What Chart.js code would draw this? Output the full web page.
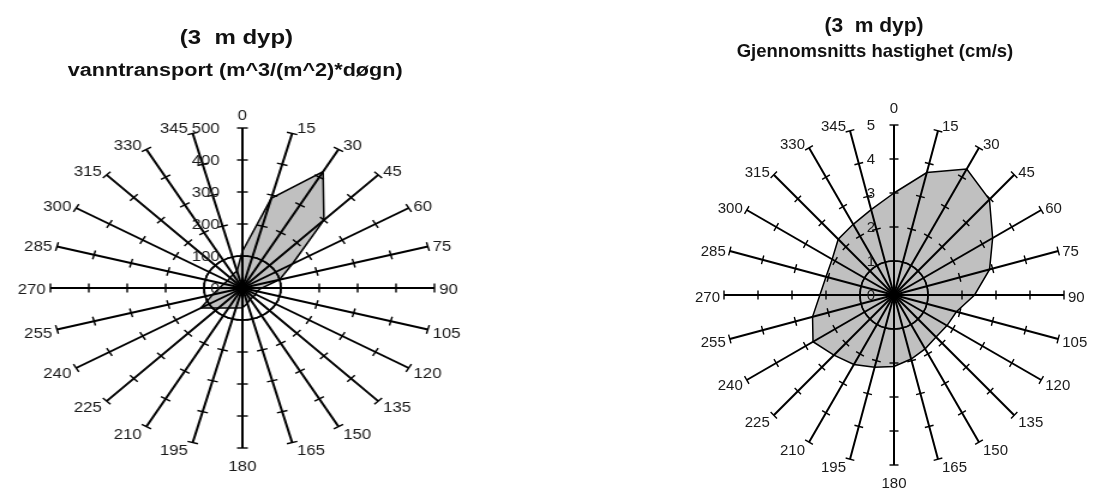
<!DOCTYPE html>
<html lang="no">
<head>
<meta charset="UTF-8">
<title>Strømrose 3 m dyp</title>
<script src="https://cdn.jsdelivr.net/npm/chart.js@4"></script>
<style>
  * { margin: 0; padding: 0; box-sizing: border-box; }
  body { width: 1093px; height: 490px; background: #fff; position: relative; overflow: hidden; font-family: 'Liberation Sans', Arial, sans-serif; color: #111; }
  .panel { position: absolute; top: 0; height: 490px; }
  #leftPanel { left: 0; width: 455px; transform: scaleX(1.2); transform-origin: 0 0; }
  #rightPanel { left: 546px; width: 547px; }
  .title, .sub { position: absolute; width: 400px; text-align: center; font-weight: bold; white-space: pre; }
  .title { font-size: 20px; line-height: 24px; }
  .sub { font-size: 18px; line-height: 22px; }
  canvas { position: absolute; left: 0; top: 0; }
</style>
</head>
<body>
<div class="panel" id="leftPanel">
  <div class="title" style="left:-3px; top:25px">(3  m dyp)</div>
  <div class="sub" style="left:-4px; top:59px">vanntransport (m^3/(m^2)*døgn)</div>
  <canvas id="transportChart" width="455" height="490"></canvas>
</div>
<div class="panel" id="rightPanel">
  <div class="title" style="left:128px; top:13px; font-size:21px">(3  m dyp)</div>
  <div class="sub" style="left:129px; top:40px; font-size:18.5px">Gjennomsnitts hastighet (cm/s)</div>
  <canvas id="speedChart" width="547" height="490"></canvas>
</div>

<script>
// Retning (grader), 15 graders sektorer
const directions = ['0', '15', '30', '45', '60', '75', '90', '105', '120', '135', '150', '165',
  '180', '195', '210', '225', '240', '255', '270', '285', '300', '315', '330', '345'];

// Vanntransport m^3/(m^2)*døgn per retning
const transport = [115, 290, 420, 300, 150, 100, 50, 40, 40, 40, 40, 50,
  62, 65, 72, 88, 125, 80, 60, 50, 45, 45, 50, 55];
const transportTicks = [0, 100, 200, 300, 400, 500];

// Gjennomsnittlig hastighet cm/s per retning
const speed = [3.0, 3.73, 4.28, 3.97, 3.35, 2.91, 2.37, 1.9, 1.8, 1.75, 1.83, 1.95,
  2.1, 2.2, 2.36, 2.5, 2.75, 2.48, 2.18, 2.07, 2.1, 2.32, 2.4, 2.6];
const speedTicks = [0, 1, 2, 3, 4, 5];

const FONT = "'Liberation Sans', Arial, sans-serif";

// cross ticks on every spoke, value labels beside the north spoke,
// and direction labels placed next to each spoke end
const roseDecor = {
  id: 'roseDecor',
  afterDraw(chart, args, opts) {
    const scale = chart.scales.r;
    const ctx = chart.ctx;
    const n = chart.data.labels.length;
    const top = opts.values[opts.values.length - 1];
    ctx.save();
    ctx.strokeStyle = '#000';
    ctx.lineWidth = 1.4;
    for (let i = 0; i < n; i++) {
      const a = scale.getIndexAngle(i) - Math.PI / 2;
      const nx = -Math.sin(a), ny = Math.cos(a);
      opts.values.forEach(v => {
        if (v === 0) return;
        const p = scale.getPointPositionForValue(i, v);
        ctx.beginPath();
        ctx.moveTo(p.x - nx * 4.5, p.y - ny * 4.5);
        ctx.lineTo(p.x + nx * 4.5, p.y + ny * 4.5);
        ctx.stroke();
      });
    }

    ctx.fillStyle = '#1a1a1a';
    ctx.font = opts.fontSize + 'px ' + FONT;
    ctx.textBaseline = 'middle';

    ctx.textAlign = 'right';
    opts.values.forEach(v => {
      const p = scale.getPointPositionForValue(0, v);
      ctx.fillText(String(v), p.x - opts.gap, p.y + 1);
    });

    chart.data.labels.forEach((label, i) => {
      const deg = Number(label);
      const p = scale.getPointPositionForValue(i, top);
      if (deg === 0) {
        ctx.textAlign = 'center';
        ctx.fillText(label, p.x, p.y - opts.northGap);
      } else if (deg === 180) {
        ctx.textAlign = 'center';
        ctx.fillText(label, p.x, p.y + 19);
      } else {
        const right = deg < 180;
        ctx.textAlign = right ? 'left' : 'right';
        const dy = 2.5 - 6.7 * Math.cos(deg * Math.PI / 180);
        ctx.fillText(label, p.x + (right ? 4 : -4), p.y + dy);
      }
    });
    ctx.restore();
  }
};

function roseChart(id, values, ticks, ring, padding, decor) {
  return new Chart(document.getElementById(id), {
    type: 'radar',
    data: {
      labels: directions,
      datasets: [{
        data: values,
        backgroundColor: '#c0c0c0',
        borderColor: '#000',
        borderWidth: 1.5,
        pointRadius: 0,
        fill: true
      }]
    },
    options: {
      responsive: false,
      animation: false,
      layout: { padding },
      plugins: {
        legend: { display: false },
        tooltip: { enabled: false },
        roseDecor: Object.assign({ values: ticks }, decor)
      },
      scales: {
        r: {
          min: ticks[0],
          max: ticks[ticks.length - 1],
          ticks: { display: false, stepSize: ticks[1] - ticks[0] },
          grid: {
            z: 1,
            circular: true,
            lineWidth: 1.6,
            color: c => (c.tick && c.tick.value === ring ? '#000' : 'rgba(0,0,0,0)')
          },
          angleLines: { color: '#000', lineWidth: 2 },
          pointLabels: { display: false }
        }
      }
    },
    plugins: [roseDecor]
  });
}

roseChart('transportChart', transport, transportTicks, 100,
  { left: 42, right: 92, top: 128, bottom: 42 }, { gap: 19, fontSize: 14, northGap: 12 });
roseChart('speedChart', speed, speedTicks, 1,
  { left: 178, right: 29, top: 125, bottom: 25 }, { gap: 19, fontSize: 15, northGap: 16 });
</script>
</body>
</html>
